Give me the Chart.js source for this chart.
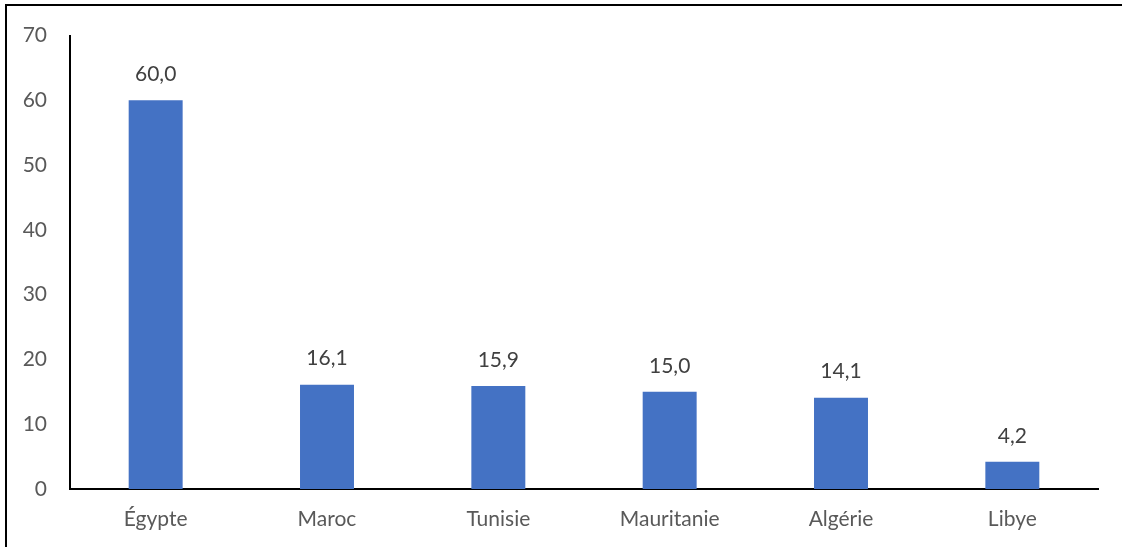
<!DOCTYPE html>
<html>
<head>
<meta charset="utf-8">
<script src="https://cdn.jsdelivr.net/npm/chart.js@4"></script>
<style>
  html, body { margin: 0; padding: 0; background: #fff; }
  #wrap { position: relative; width: 1122px; height: 547px; }
  #frame {
    position: absolute; left: 5px; top: 4px; right: 0; bottom: 0;
    border-left: 2px solid #000; border-top: 2px solid #000;
    pointer-events: none;
  }
</style>
</head>
<body>
<div id="wrap">
  <canvas id="chart" width="1122" height="547"></canvas>
  <div id="frame"></div>
</div>
<script>
// chart data
const countries = ["Égypte", "Maroc", "Tunisie", "Mauritanie", "Algérie", "Libye"];
const values = [60.0, 16.1, 15.9, 15.0, 14.1, 4.2];
const yTicks = [0, 10, 20, 30, 40, 50, 60, 70];

const fontFamily = "Lato, 'Open Sans', sans-serif";

// draws the value above each bar, French decimal comma
const valueLabels = {
  id: "valueLabels",
  afterDatasetsDraw(chart) {
    const ctx = chart.ctx;
    const meta = chart.getDatasetMeta(0);
    ctx.save();
    ctx.font = "21px " + fontFamily;
    ctx.fillStyle = "#404040";
    ctx.textAlign = "center";
    ctx.textBaseline = "middle";
    meta.data.forEach((bar, i) => {
      const txt = values[i].toFixed(1).replace(".", ",");
      ctx.fillText(txt, bar.x, bar.y - 26);
    });
    ctx.restore();
  },
};

const ctx = document.getElementById("chart").getContext("2d");
new Chart(ctx, {
  type: "bar",
  data: {
    labels: countries,
    datasets: [
      {
        data: values,
        backgroundColor: "#4472C4",
        borderWidth: 0,
        categoryPercentage: 1,
        barPercentage: 0.315,
      },
    ],
  },
  options: {
    responsive: false,
    animation: false,
    layout: { padding: { left: 0, top: 35, right: 24, bottom: 0 } },
    plugins: {
      legend: { display: false },
      tooltip: { enabled: false },
    },
    scales: {
      x: {
        grid: { display: false, drawTicks: false },
        border: { display: true, color: "#000", width: 2 },
        ticks: {
          color: "#595959",
          font: { family: fontFamily, size: 21 },
          padding: 18,
        },
        afterFit(scale) { scale.height = 58; },
      },
      y: {
        min: 0,
        max: 70,
        grid: { display: false, drawTicks: false },
        border: { display: true, color: "#000", width: 2 },
        afterBuildTicks(scale) { scale.ticks = yTicks.map((v) => ({ value: v })); },
        ticks: {
          color: "#595959",
          font: { family: fontFamily, size: 21 },
          padding: 23,
        },
        afterFit(scale) { scale.width = 70; },
      },
    },
  },
  plugins: [valueLabels],
});
</script>
</body>
</html>
